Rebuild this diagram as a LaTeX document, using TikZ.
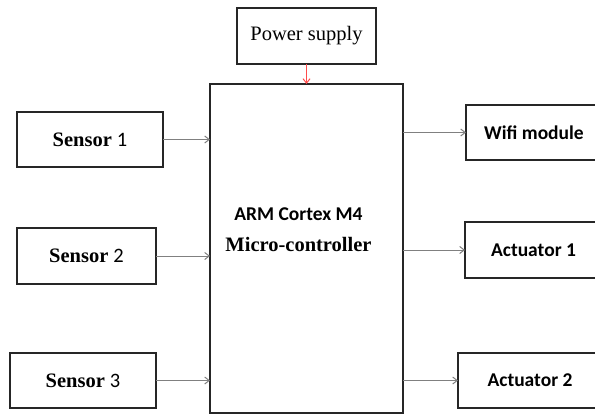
\documentclass[tikz,border=0pt]{standalone}
\usepackage{fontspec}
\setmainfont{Liberation Serif}
\newfontfamily\calibri{Carlito}
\usepackage{xcolor}
\usetikzlibrary{arrows.meta,positioning,calc}

\begin{document}
\begin{tikzpicture}[x=1pt,y=-1pt,font=\fontsize{20.5}{24}\selectfont,>={Straight Barb[length=4.5pt,width=7pt]}]
\tikzstyle{blockbox}=[draw=black!85,line width=1.4pt,inner sep=0pt,outer sep=0pt,align=center,fill=white]
\tikzstyle{sig}=[->,draw=black!50,line width=1pt]
\useasboundingbox (0,0) rectangle (595,415);
% controller and supply
\node[blockbox,minimum width=193pt,minimum height=329pt] (mcu) at (306.5,248.5) {};
\node[align=center] (mcutext) at ([xshift=-8pt,yshift=19pt]mcu.center) {{\calibri\bfseries\fontsize{19.5}{22}\selectfont ARM Cortex M4}\\[7pt]\bfseries Micro-controller};
\node[blockbox,minimum width=139pt,minimum height=56pt,above=20pt of mcu] (power) {Power supply};
% inputs
\node[blockbox,minimum width=146pt,minimum height=55pt] (sensA) at (90,139.5) {\bfseries Sensor {\calibri\mdseries 1}};
\node[blockbox,minimum width=139pt,minimum height=56pt] (sensB) at (86.5,256) {\bfseries Sensor {\calibri\mdseries 2}};
\node[blockbox,minimum width=146pt,minimum height=55pt] (sensC) at (83,380.5) {\bfseries Sensor {\calibri\mdseries 3}};
% outputs
\node[blockbox,minimum width=136pt,minimum height=55pt] (wifi) at (534,132.5) {\calibri\bfseries\fontsize{19.5}{22}\selectfont Wifi module};
\node[blockbox,minimum width=137pt,minimum height=56pt] (actA) at (533.5,250) {\calibri\bfseries\fontsize{19.5}{22}\selectfont Actuator 1};
\node[blockbox,minimum width=144pt,minimum height=55pt] (actB) at (530,380.5) {\calibri\bfseries\fontsize{19.5}{22}\selectfont Actuator 2};
\draw[->,draw=red!70,line width=1pt] (power.south)--(mcu.north);
\draw[sig] (sensA.east)--(sensA.east -| mcu.west);
\draw[sig] (sensB.east)--(sensB.east -| mcu.west);
\draw[sig] (sensC.east)--(sensC.east -| mcu.west);
\draw[sig] (mcu.east |- wifi.west)--(wifi.west);
\draw[sig] (mcu.east |- actA.west)--(actA.west);
\draw[sig] (mcu.east |- actB.west)--(actB.west);
\end{tikzpicture}
\end{document}
